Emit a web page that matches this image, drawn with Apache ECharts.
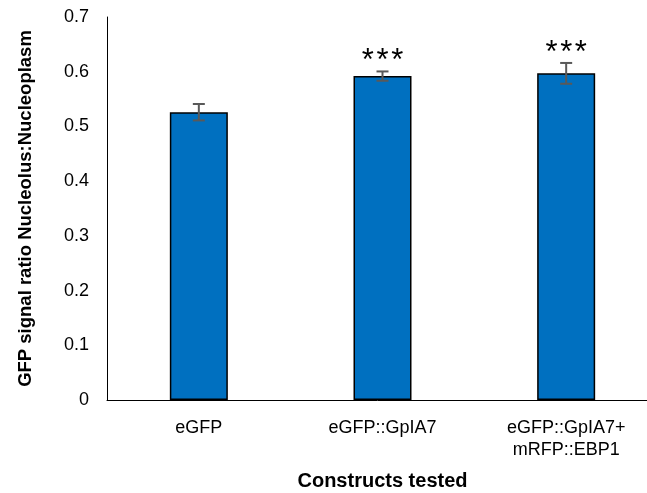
<!DOCTYPE html>
<html>
<head>
<meta charset="utf-8">
<script src="https://cdn.jsdelivr.net/npm/echarts@6/dist/echarts.min.js"></script>
<style>html,body{margin:0;padding:0;background:#fff;overflow:hidden}#c{width:647px;height:493px}</style>
</head>
<body>
<div id="c"></div>
<script>
var categories = ['eGFP', 'eGFP::GpIA7', 'eGFP::GpIA7+\nmRFP::EBP1'];
var values = [0.526, 0.592, 0.597];
var errors = [0.015, 0.0085, 0.019];
var significance = ['', '***', '***'];
var yTicks = [0, 0.1, 0.2, 0.3, 0.4, 0.5, 0.6, 0.7];

var chart = echarts.init(document.getElementById('c'), null, {renderer: 'canvas'});
var FONT = '"Liberation Sans", Arial, sans-serif';
var errData = values.map(function (v, i) { return [i, v, errors[i]]; });

chart.setOption({
  animation: false,
  grid: {left: 107, top: 17, right: -11, height: 383, containLabel: false, outerBoundsMode: 'none'},
  xAxis: {
    type: 'category',
    data: categories,
    name: 'Constructs tested',
    nameLocation: 'middle',
    nameGap: 71,
    nameTextStyle: {fontFamily: FONT, fontSize: 20, fontWeight: 'bold', color: '#000'},
    axisLine: {lineStyle: {color: '#000', width: 1}},
    axisTick: {show: false},
    axisLabel: {fontFamily: FONT, fontSize: 18, color: '#000', margin: 17, lineHeight: 22, interval: 0}
  },
  yAxis: {
    type: 'value',
    min: yTicks[0],
    max: yTicks[yTicks.length - 1],
    interval: 0.1,
    name: 'GFP signal ratio Nucleolus:Nucleoplasm',
    nameLocation: 'middle',
    nameGap: 72,
    nameTextStyle: {fontFamily: FONT, fontSize: 18.5, fontWeight: 'bold', color: '#000'},
    axisLine: {show: true, lineStyle: {color: '#000', width: 1}},
    axisTick: {show: false},
    splitLine: {show: false},
    axisLabel: {fontFamily: FONT, fontSize: 18, color: '#000', margin: 18,
      formatter: function (v) { return v === 0 ? '0' : v.toFixed(1); }}
  },
  series: [
    {
      type: 'bar',
      data: values,
      barWidth: 58,
      itemStyle: {color: '#0070C0', borderColor: '#000', borderWidth: 1.5}
    },
    {
      type: 'custom',
      data: errData,
      z: 10,
      renderItem: function (params, api) {
        var x = api.value(0), v = api.value(1), e = api.value(2);
        var sig = significance[params.dataIndex];
        var top = api.coord([x, v + e]);
        var bot = api.coord([x, v - e]);
        var cap = 6;
        var st = {stroke: '#595959', lineWidth: 2};
        var children = [
          {type: 'line', shape: {x1: top[0], y1: top[1], x2: bot[0], y2: bot[1]}, style: st},
          {type: 'line', shape: {x1: top[0] - cap, y1: top[1], x2: top[0] + cap, y2: top[1]}, style: st},
          {type: 'line', shape: {x1: bot[0] - cap, y1: bot[1], x2: bot[0] + cap, y2: bot[1]}, style: st}
        ];
        if (sig) {
          var n = sig.length, pitch = 14.7;
          for (var k = 0; k < n; k++) {
            children.push({type: 'text', x: top[0] + (k - (n - 1) / 2) * pitch, y: top[1] - 10,
              style: {text: sig.charAt(k), fontFamily: FONT, fontSize: 31, fill: '#000', align: 'center', verticalAlign: 'middle'}});
          }
        }
        return {type: 'group', children: children};
      }
    }
  ]
});
</script>
</body>
</html>
